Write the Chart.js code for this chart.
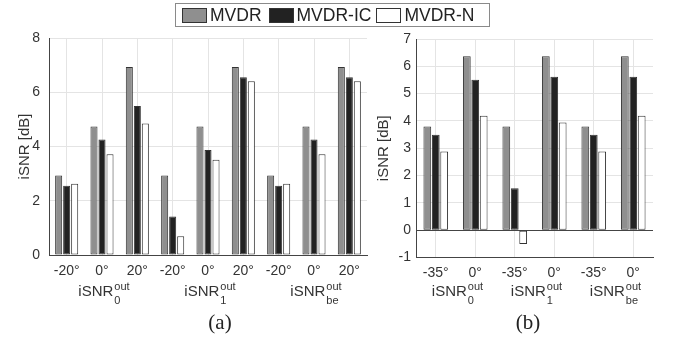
<!DOCTYPE html>
<html>
<head>
<meta charset="utf-8">
<script src="https://cdn.jsdelivr.net/npm/chart.js@4/dist/chart.umd.min.js"></script>
<style>
body{margin:0;background:#fff;}
#wrap{position:relative;width:674px;height:345px;overflow:hidden;font-family:"Liberation Sans",Arial,sans-serif;}
#chartA{position:absolute;left:0;top:0;}
#chartB{position:absolute;left:372px;top:0;}
#legend{position:absolute;left:175px;top:3px;width:313px;height:22px;border:1px solid #8a8a8a;display:flex;align-items:center;font-size:17.5px;color:#222;white-space:nowrap;}
.sw{display:inline-block;width:25px;height:15px;box-sizing:border-box;border:1px solid #333;margin-left:6px;margin-right:3px;}
.cap{position:absolute;top:310px;width:60px;text-align:center;font-family:"Liberation Serif","Times New Roman",serif;font-size:21px;color:#222;}
</style>
</head>
<body>
<div id="wrap">
  <canvas id="chartA" width="372" height="345"></canvas>
  <canvas id="chartB" width="302" height="345"></canvas>
  <div id="legend">
    <span class="sw" style="background:#8f8f8f"></span>MVDR
    <span class="sw" style="background:#222;margin-left:7px"></span>MVDR-IC
    <span class="sw" style="background:#fff;margin-left:5px"></span>MVDR-N
  </div>
  <div class="cap" style="left:190px">(a)</div>
  <div class="cap" style="left:498px">(b)</div>
</div>
<script>
// series names
var seriesNames = ['MVDR', 'MVDR-IC', 'MVDR-N'];
var seriesColors = ['#8f8f8f', '#222222', '#ffffff'];

// panel (a)
var anglesA = ['-20°', '0°', '20°', '-20°', '0°', '20°', '-20°', '0°', '20°'];
var mvdrA   = [2.93, 4.74, 6.93, 2.93, 4.74, 6.93, 2.93, 4.74, 6.93];
var mvdrIcA = [2.55, 4.26, 5.49, 1.42, 3.87, 6.55, 2.55, 4.26, 6.55];
var mvdrNA  = [2.63, 3.71, 4.85, 0.69, 3.51, 6.41, 2.63, 3.71, 6.41];

// panel (b)
var anglesB = ['-35°', '0°', '-35°', '0°', '-35°', '0°'];
var mvdrB   = [3.80, 6.37, 3.80, 6.37, 3.80, 6.37];
var mvdrIcB = [3.49, 5.51, 1.54, 5.62, 3.49, 5.62];
var mvdrNB  = [2.88, 4.19, -0.51, 3.94, 2.88, 4.19];

// group labels (iSNR with subscript)
var groupSubs = ['0', '1', 'be'];
var groupsA = [[0, 2], [3, 5], [6, 8]];
var groupsB = [[0, 1], [2, 3], [4, 5]];

var textColor = '#333';
var gridColor = '#e4e4e4';
var axisColor = '#444';

var groupLabels = {
    id: 'groupLabels',
    afterDraw: function(chart, args, opts) {
        var ctx = chart.ctx;
        var xs = chart.scales.x;
        ctx.save();
        ctx.fillStyle = textColor;
        ctx.textBaseline = 'alphabetic';
        ctx.textAlign = 'left';
        for (var i = 0; i < opts.groups.length; i++) {
            var g = opts.groups[i];
            var cx = (xs.getPixelForValue(g[0]) + xs.getPixelForValue(g[1])) / 2;
            ctx.font = '15px "Liberation Sans", Arial, sans-serif';
            var w1 = ctx.measureText('iSNR').width;
            ctx.font = '11px "Liberation Sans", Arial, sans-serif';
            var w2 = Math.max(ctx.measureText(groupSubs[i]).width, ctx.measureText('out').width);
            var left = cx - (w1 + 1 + w2) / 2 + 2;
            ctx.font = '15px "Liberation Sans", Arial, sans-serif';
            ctx.fillText('iSNR', left, opts.baseline);
            ctx.font = '11px "Liberation Sans", Arial, sans-serif';
            ctx.fillText(groupSubs[i], left + w1 + 1, opts.baseline + 8);
            ctx.fillText('out', left + w1 + 1, opts.baseline - 6);
        }
        ctx.restore();
    }
};

function makeSets(a, b, c, catPct, barPct) {
    var vals = [a, b, c];
    var sets = [];
    for (var i = 0; i < 3; i++) {
        sets.push({
            label: seriesNames[i],
            data: vals[i],
            backgroundColor: seriesColors[i],
            borderColor: '#333',
            borderWidth: 1,
            borderSkipped: false,
            categoryPercentage: catPct,
            barPercentage: barPct
        });
    }
    return sets;
}

function makeChart(id, labels, sets, o) {
    return new Chart(document.getElementById(id), {
        type: 'bar',
        data: { labels: labels, datasets: sets },
        plugins: [groupLabels],
        options: {
            responsive: false,
            animation: false,
            devicePixelRatio: 1,
            layout: { padding: { left: 0, right: o.padRight, top: o.padTop, bottom: 0 } },
            plugins: {
                legend: { display: false },
                tooltip: { enabled: false },
                groupLabels: { groups: o.groups, baseline: 296 }
            },
            scales: {
                x: {
                    grid: { color: gridColor, offset: false, drawTicks: false },
                    border: { display: true, color: axisColor, width: 1 },
                    ticks: { color: textColor, padding: o.xPad, maxRotation: 0, autoSkip: false,
                             font: { family: '"Liberation Sans", Arial, sans-serif', size: 14 } },
                    afterFit: function(s) { s.height = o.xHeight; }
                },
                y: {
                    min: o.min, max: o.max,
                    grid: {
                        drawTicks: false,
                        color: function(c) { return (c.tick && c.tick.value === 0 && o.min < 0) ? axisColor : gridColor; }
                    },
                    border: { display: true, color: axisColor, width: 1 },
                    ticks: { stepSize: o.step, color: textColor, padding: o.yPad,
                             font: { family: '"Liberation Sans", Arial, sans-serif', size: 14 } },
                    title: { display: true, text: 'iSNR [dB]', color: textColor,
                             padding: { top: o.titlePad, bottom: 0 },
                             font: { family: '"Liberation Sans", Arial, sans-serif', size: 15 } },
                    afterFit: function(s) { s.width = o.yWidth; }
                }
            }
        }
    });
}

makeChart('chartA', anglesA, makeSets(mvdrA, mvdrIcA, mvdrNA, 0.68, 0.88), {
    padRight: 5, padTop: 38, groups: groupsA, xPad: 8, xHeight: 90,
    min: 0, max: 8, step: 2, yPad: 9, titlePad: 16, yWidth: 49
});

makeChart('chartB', anglesB, makeSets(mvdrB, mvdrIcB, mvdrNB, 0.64, 0.92), {
    padRight: 21, padTop: 39, groups: groupsB, xPad: 7, xHeight: 87.5,
    min: -1, max: 7, step: 1, yPad: 5, titlePad: 3, yWidth: 44
});
</script>
</body>
</html>
